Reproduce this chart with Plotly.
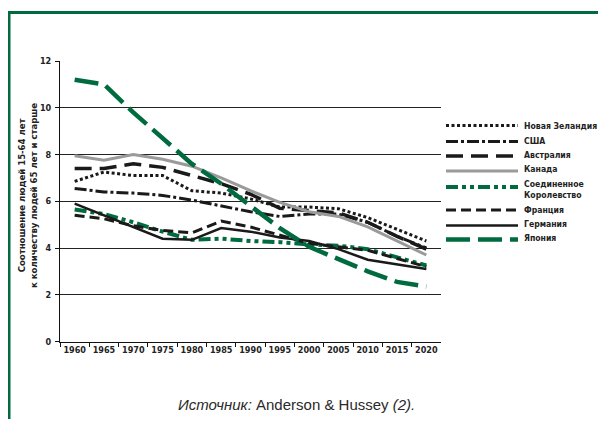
import plotly.graph_objects as go

years = ["1960", "1965", "1970", "1975", "1980", "1985", "1990", "1995", "2000", "2005", "2010", "2015", "2020"]
y_ticks = [0, 2, 4, 6, 8, 10, 12]

new_zealand = [6.85, 7.25, 7.1, 7.1, 6.45, 6.35, 6.1, 5.75, 5.75, 5.68, 5.3, 4.8, 4.3]
usa = [6.55, 6.4, 6.35, 6.25, 6.05, 5.8, 5.55, 5.35, 5.45, 5.45, 5.1, 4.5, 4.0]
australia = [7.4, 7.4, 7.6, 7.45, 7.1, 6.75, 6.3, 5.7, 5.6, 5.5, 5.1, 4.5, 3.95]
canada = [7.95, 7.75, 8.0, 7.8, 7.5, 7.0, 6.45, 5.95, 5.55, 5.35, 4.9, 4.3, 3.7]
uk = [5.65, 5.45, 5.1, 4.7, 4.35, 4.4, 4.3, 4.25, 4.15, 4.1, 3.95, 3.6, 3.25]
france = [5.4, 5.25, 4.95, 4.75, 4.65, 5.15, 4.9, 4.55, 4.2, 4.05, 3.9, 3.55, 3.2]
germany = [5.9, 5.4, 4.9, 4.4, 4.35, 4.85, 4.7, 4.45, 4.3, 3.95, 3.5, 3.3, 3.1]
japan = [11.2, 11.0, 9.8, 8.7, 7.6, 6.75, 5.8, 4.85, 4.05, 3.5, 3.0, 2.55, 2.35]

names = ["Новая Зеландия", "США", "Австралия", "Канада", "Соединенное<br>Королевство",
         "Франция", "Германия", "Япония"]

GREEN = "#006b3f"
# page has an 8px body margin: the figure is drawn at offset (8, 8)
OFF = 8
W, H = 606 - OFF, 427 - 2 * OFF

series = [
    (new_zealand, dict(color="#1a1a1a", width=3, dash="3px,2.5px")),
    (usa, dict(color="#1a1a1a", width=3, dash="12px,3px,3px,3px")),
    (australia, dict(color="#1a1a1a", width=3.5, dash="17px,8px")),
    (canada, dict(color="#9a9a9a", width=3, dash="solid")),
    (uk, dict(color=GREEN, width=4, dash="12px,4px,4px,4px,4px,4px")),
    (france, dict(color="#1a1a1a", width=3, dash="10px,5px")),
    (germany, dict(color="#1a1a1a", width=2.5, dash="solid")),
    (japan, dict(color=GREEN, width=4.5, dash="24px,8px")),
]

fig = go.Figure()
for vals, ln in series:
    fig.add_trace(go.Scatter(x=years, y=vals, mode="lines", line=ln,
                             showlegend=False, hoverinfo="skip", xaxis="x", yaxis="y"))

# custom legend samples drawn on a helper axis (window pixel units)
leg_y = [125.5, 141.5, 156, 171, 187, 210, 225.5, 239.5]
leg_text_y = [126, 141, 155, 169, 189, 210, 224, 238]
for (vals, ln), ly in zip(series, leg_y):
    fig.add_trace(go.Scatter(x=[0, 1], y=[ly, ly], mode="lines", line=ln,
                             showlegend=False, hoverinfo="skip", xaxis="x2", yaxis="y2"))

def px_x(v):
    return (v - OFF) / W

def px_y(v):
    return 1 - (v - OFF) / H

font_narrow = "DejaVu Sans Condensed, Liberation Sans Narrow, Arial Narrow, sans-serif"
tick_font = dict(family=font_narrow, size=9, color="#222", weight="bold")

fig.update_layout(
    width=W, height=H,
    margin=dict(l=0, r=0, t=0, b=0),
    paper_bgcolor="white", plot_bgcolor="white",
    showlegend=False,
    xaxis=dict(
        type="category", domain=[px_x(60), px_x(441)], range=[-0.5, 12.5],
        tickson="boundaries", ticks="outside", ticklen=4, tickcolor="#111", tickwidth=1,
        showline=True, linecolor="#111", linewidth=1, showgrid=False,
        tickangle=0, automargin=False,
        tickfont=tick_font,
        anchor="y",
    ),
    yaxis=dict(
        domain=[px_y(341.5), px_y(61)], range=[0, 12], tickvals=y_ticks,
        ticks="outside", ticklen=4, tickcolor="#111", tickwidth=1,
        showline=True, linecolor="#111", linewidth=1, automargin=False,
        showgrid=True, gridcolor="#222", gridwidth=1, zeroline=False,
        tickfont=tick_font,
        ticklabelstandoff=2,
        anchor="x",
    ),
    xaxis2=dict(domain=[px_x(446), px_x(518)], range=[0, 1], visible=False, anchor="y2"),
    yaxis2=dict(domain=[px_y(250), px_y(115)], range=[250, 115], visible=False, anchor="x2"),
)

annotations = []
for name, ty in zip(names, leg_text_y):
    annotations.append(dict(
        x=px_x(522), y=px_y(ty), xref="paper", yref="paper", xanchor="left", yanchor="middle",
        text="<b>" + name + "</b>", showarrow=False, align="left",
        font=dict(family=font_narrow, size=8.6, color="#222"),
    ))

annotations.append(dict(
    x=px_x(27), y=px_y(196), xref="paper", yref="paper", xanchor="center", yanchor="middle",
    text="<b>Соотношение людей 15-64 лет<br>к количеству людей 65 лет и старше</b>",
    textangle=-90, showarrow=False,
    font=dict(family=font_narrow, size=9.5, color="#222"),
))

annotations.append(dict(
    x=px_x(296), y=px_y(404), xref="paper", yref="paper", xanchor="center", yanchor="middle",
    text="<i>Источник:</i> Anderson &amp; Hussey <i>(2).</i>", showarrow=False,
    font=dict(family="Liberation Sans, Arial, sans-serif", size=15, color="#2a2a2a"),
))

fig.update_layout(annotations=annotations)

fig.add_shape(type="rect", xref="paper", yref="paper",
              x0=px_x(9), x1=px_x(700), y0=px_y(500), y1=px_y(12.5),
              line=dict(color=GREEN, width=3), fillcolor="rgba(0,0,0,0)", layer="above")

fig.write_html("out.html")
